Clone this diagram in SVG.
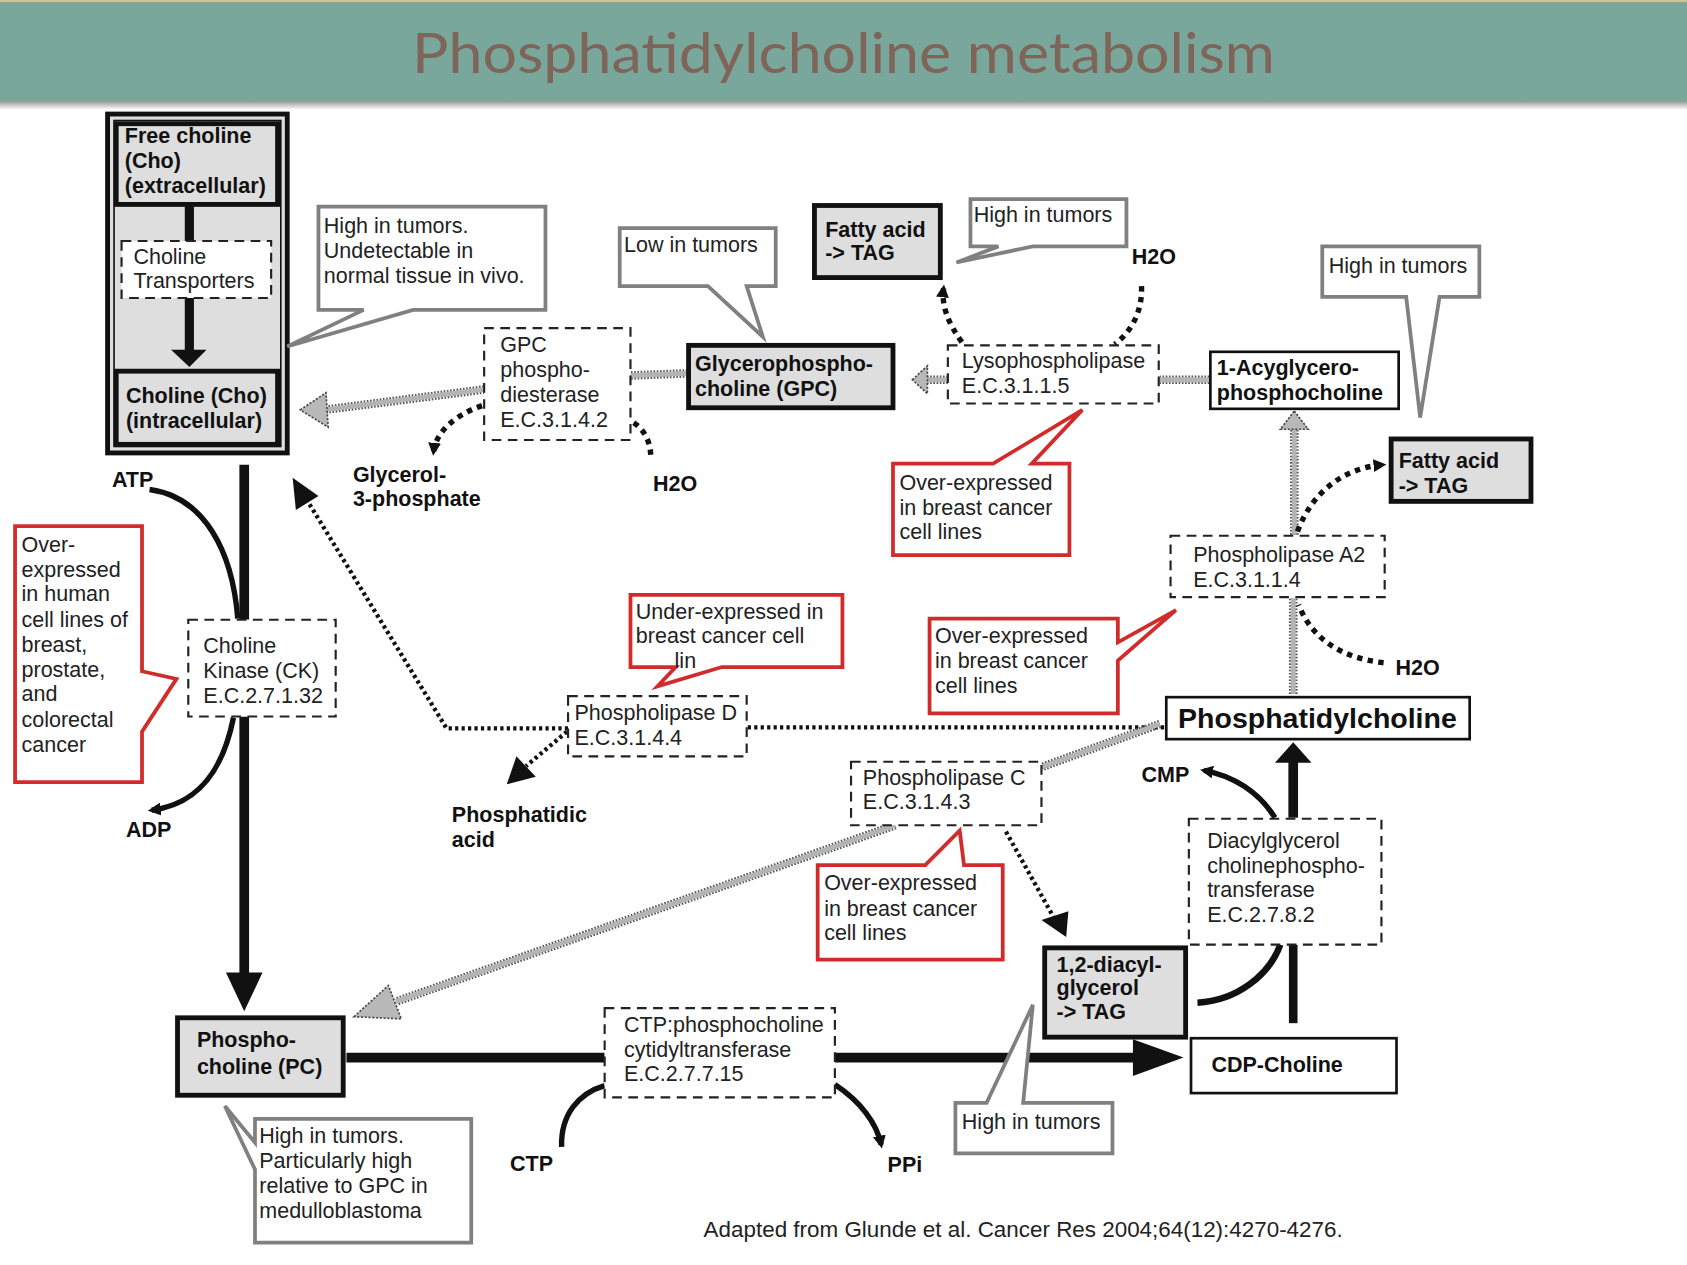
<svg xmlns="http://www.w3.org/2000/svg" width="1687" height="1265" viewBox="0 0 1687 1265">
<style>
.t{font-family:"Liberation Sans",Arial,sans-serif;font-size:20px;fill:#222}
.b{font-weight:bold;fill:#111}
.thick{fill:#dedede;stroke:#111;stroke-width:4.5}
.thin{fill:#fff;stroke:#111;stroke-width:2.5}
.dash{fill:#fff;stroke:#222;stroke-width:2;stroke-dasharray:9 6}
.cg{fill:#fff;stroke:#808080;stroke-width:3.5;stroke-linejoin:miter}
.cr{fill:#fff;stroke:#d22b2b;stroke-width:3.5;stroke-linejoin:miter}
.solid{stroke:#111;stroke-width:9;fill:none}
.curve{stroke:#111;stroke-width:5;fill:none}
.dot{stroke:#111;stroke-width:5;stroke-dasharray:5 5;fill:none}
.fdot{stroke:#111;stroke-width:4;stroke-dasharray:3 3;fill:none}
.sg1{stroke:#555;stroke-width:8;stroke-dasharray:1.5 1.5;fill:none}
.sg2{stroke:#b4b4b4;stroke-width:4.5;fill:none}
.gh{fill:#b8b8b8;stroke:#444;stroke-width:1.5;stroke-dasharray:2 1.5}
.bh{fill:#111}
</style>
<defs>
<marker id="ah" viewBox="0 0 10 10" refX="7" refY="5" markerWidth="12" markerHeight="12" markerUnits="userSpaceOnUse" orient="auto">
<path d="M0,0 L10,5 L0,10 z" fill="#111"/>
</marker>
<linearGradient id="shadow" x1="0" y1="0" x2="0" y2="1">
<stop offset="0" stop-color="#8a8a8a"/>
<stop offset="1" stop-color="#ffffff"/>
</linearGradient>
</defs>
<rect width="1687" height="1265" fill="#fff"/>
<g transform="scale(1.07589)">
<g id="header">
<rect x="0" y="93" width="1568" height="9" fill="url(#shadow)"/>
<rect x="0" y="0" width="1568" height="94" fill="#79a79b"/>
<rect x="0" y="0" width="1568" height="2" fill="#d9bf95"/>
<text x="784" y="68" text-anchor="middle" textLength="802" lengthAdjust="spacingAndGlyphs" style="font-family:Lato,'Open Sans',sans-serif;font-size:52px;fill:#7f6459">Phosphatidylcholine metabolism</text>
</g>

<g id="choline-compartment">
<rect x="100" y="106" width="167" height="315" fill="#dedede" stroke="#111" stroke-width="4.5"/>
<rect x="106" y="112" width="155" height="303" fill="none" stroke="#111" stroke-width="1.5"/>
</g>

<g id="connectors">
<!-- choline transport -->
<line class="solid" x1="176" y1="190" x2="176" y2="224" style="stroke-width:8.5"/>
<line class="solid" x1="176" y1="277" x2="176" y2="327" style="stroke-width:8.5"/>
<polygon class="bh" points="159,325 192,325 176,341"/>
<!-- choline kinase -->
<line class="solid" x1="227" y1="432" x2="227" y2="576"/>
<line class="solid" x1="227" y1="666" x2="227" y2="906"/>
<polygon class="bh" points="210,904 244,904 227,940"/>
<path class="curve" d="M139,455 C190,462 216,512 221,575"/>
<path class="curve" d="M217,667 C206,722 180,748 141,753" marker-end="url(#ah)"/>
<!-- GPC phosphodiesterase -> choline -->
<line class="sg1" x1="450" y1="362" x2="301" y2="381"/>
<line class="sg2" x1="450" y1="362" x2="301" y2="381"/>
<polygon class="gh" points="279,381 303,365 305,397"/>
<line class="sg1" x1="639" y1="347" x2="586" y2="349"/>
<line class="sg2" x1="639" y1="347" x2="586" y2="349"/>
<path class="dot" d="M448,377 C422,386 405,402 403,420" marker-end="url(#ah)"/>
<path class="dot" d="M589,393 C600,400 605,412 605,427"/>
<!-- lysophospholipase -->
<line class="sg1" x1="881" y1="353" x2="860" y2="353"/>
<line class="sg2" x1="881" y1="353" x2="860" y2="353"/>
<polygon class="gh" points="848,353 862,340 862,366"/>
<line class="sg1" x1="1124" y1="353" x2="1078" y2="353"/>
<line class="sg2" x1="1124" y1="353" x2="1078" y2="353"/>
<path class="dot" d="M894,318 C881,300 875,284 877,268" marker-end="url(#ah)"/>
<path class="dot" d="M1061,266 C1062,290 1051,309 1036,320"/>
<!-- phospholipase A2 -->
<line class="sg1" x1="1203" y1="497" x2="1203" y2="397"/>
<line class="sg2" x1="1203" y1="497" x2="1203" y2="397"/>
<polygon class="gh" points="1203,382 1216,399 1190,399"/>
<line class="sg1" x1="1202" y1="645" x2="1202" y2="556"/>
<line class="sg2" x1="1202" y1="645" x2="1202" y2="556"/>
<path class="dot" d="M1206,494 C1220,456 1250,435 1285,432" marker-end="url(#ah)"/>
<path class="dot" d="M1286,616 C1250,612 1220,596 1207,562"/>
<!-- phospholipase D -->
<line class="fdot" x1="695" y1="676" x2="1082" y2="676"/>
<polyline class="fdot" points="528,677 415,677 286,466"/>
<polygon class="bh" points="272,444 296,461 275,474"/>
<line class="fdot" x1="527" y1="680" x2="489" y2="712"/>
<polygon class="bh" points="471,729 480,703 498,722"/>
<!-- phospholipase C -->
<line class="sg1" x1="1078" y1="673" x2="968" y2="713"/>
<line class="sg2" x1="1078" y1="673" x2="968" y2="713"/>
<line class="sg1" x1="832" y1="767" x2="368" y2="931"/>
<line class="sg2" x1="832" y1="767" x2="368" y2="931"/>
<polygon class="gh" points="329,945 361,916 373,947"/>
<line class="fdot" x1="935" y1="773" x2="979" y2="852"/>
<polygon class="bh" points="991,871 968,855 993,847"/>
<!-- CDP-choline pathway -->
<line class="solid" x1="322" y1="983" x2="562" y2="983"/>
<line class="solid" x1="776" y1="983" x2="1056" y2="983"/>
<polygon class="bh" points="1053,966 1053,1000 1100,983"/>
<path class="curve" d="M522,1066 C521,1036 538,1016 562,1009"/>
<path class="curve" d="M776,1008 C800,1024 815,1044 819,1064" marker-end="url(#ah)"/>
<line class="solid" x1="1202" y1="951" x2="1202" y2="878" style="stroke-width:8"/>
<path class="curve" d="M1113,932 C1150,930 1180,906 1190,878" style="stroke-width:6"/>
<line class="solid" x1="1202" y1="760" x2="1202" y2="707"/>
<polygon class="bh" points="1185,709 1219,709 1202,690"/>
<path class="curve" d="M1185,760 C1170,736 1146,721 1119,716" marker-end="url(#ah)"/>
</g>

<g id="free-choline">
<rect class="thick" x="108" y="115" width="150" height="75"/>
<text class="t b" x="116" y="133">Free choline</text>
<text class="t b" x="116" y="156">(Cho)</text>
<text class="t b" x="116" y="179">(extracellular)</text>
</g>
<g id="choline-transporters">
<rect class="dash" x="113" y="224" width="139" height="53"/>
<text class="t" x="124" y="245">Choline</text>
<text class="t" x="124" y="268">Transporters</text>
</g>
<g id="choline-intracellular">
<rect class="thick" x="108" y="345" width="150" height="68"/>
<text class="t b" x="117" y="375">Choline (Cho)</text>
<text class="t b" x="117" y="398">(intracellular)</text>
</g>

<g id="callout-choline">
<path class="cg" d="M296,192 H507 V288 H384 L267,322 L338,288 H296 Z"/>
<text class="t" x="301" y="217">High in tumors.</text>
<text class="t" x="301" y="240">Undetectable in</text>
<text class="t" x="301" y="263">normal tissue in vivo.</text>
</g>

<g id="gpc-phosphodiesterase">
<rect class="dash" x="450" y="305" width="136" height="104"/>
<text class="t" x="465" y="327">GPC</text>
<text class="t" x="465" y="350">phospho-</text>
<text class="t" x="465" y="374">diesterase</text>
<text class="t" x="465" y="397">E.C.3.1.4.2</text>
</g>
<g id="glycerol-3-phosphate"><text class="t b" x="328" y="448">Glycerol-</text><text class="t b" x="328" y="470">3-phosphate</text></g>
<g id="h2o-gpc"><text class="t b" x="607" y="456">H2O</text></g>

<g id="callout-gpc">
<path class="cg" d="M576,212 H721 V266 H694 L709,313 L658,266 H576 Z"/>
<text class="t" x="580" y="234">Low in tumors</text>
</g>

<g id="gpc">
<rect class="thick" x="640" y="321" width="190" height="58"/>
<text class="t b" x="646" y="345">Glycerophospho-</text>
<text class="t b" x="646" y="368">choline (GPC)</text>
</g>

<g id="fatty-acid-1">
<rect class="thick" x="757" y="191" width="117" height="67"/>
<text class="t b" x="767" y="220">Fatty acid</text>
<text class="t b" x="767" y="242">-&gt; TAG</text>
</g>

<g id="callout-lyso-top">
<path class="cg" d="M902,185 H1047 V229 H960 L889,244 L928,229 H902 Z"/>
<text class="t" x="905" y="206">High in tumors</text>
</g>
<g id="h2o-lyso"><text class="t b" x="1052" y="245">H2O</text></g>

<g id="lysophospholipase">
<rect class="dash" x="881" y="321" width="196" height="54"/>
<text class="t" x="894" y="342">Lysophospholipase</text>
<text class="t" x="894" y="365">E.C.3.1.1.5</text>
</g>

<g id="acylglycerophosphocholine">
<rect class="thin" x="1125" y="327" width="175" height="53"/>
<text class="t b" x="1131" y="349">1-Acyglycero-</text>
<text class="t b" x="1131" y="372">phosphocholine</text>
</g>

<g id="callout-acyl">
<path class="cg" d="M1229,229 H1375 V276 H1338 L1320,388 L1307,276 H1229 Z"/>
<text class="t" x="1235" y="254">High in tumors</text>
</g>

<g id="fatty-acid-2">
<rect class="thick" x="1293" y="408" width="130" height="58"/>
<text class="t b" x="1300" y="435">Fatty acid</text>
<text class="t b" x="1300" y="458">-&gt; TAG</text>
</g>

<g id="callout-lyso-red">
<path class="cr" d="M830,431 H923 L1006,381 L959,431 H994 V516 H830 Z"/>
<text class="t" x="836" y="455">Over-expressed</text>
<text class="t" x="836" y="479">in breast cancer</text>
<text class="t" x="836" y="501">cell lines</text>
</g>

<g id="phospholipase-a2">
<rect class="dash" x="1088" y="498" width="199" height="57"/>
<text class="t" x="1109" y="522">Phospholipase A2</text>
<text class="t" x="1109" y="546">E.C.3.1.1.4</text>
</g>
<g id="h2o-pla2"><text class="t b" x="1297" y="627">H2O</text></g>

<g id="callout-pla2-red">
<path class="cr" d="M864,575 H1039 V597 L1093,567 L1039,614 V663 H864 Z"/>
<text class="t" x="869" y="598">Over-expressed</text>
<text class="t" x="869" y="621">in breast cancer</text>
<text class="t" x="869" y="644">cell lines</text>
</g>

<g id="phosphatidylcholine">
<rect class="thin" x="1084" y="648" width="282" height="39"/>
<text class="t b" x="1095" y="677" style="font-size:26.5px">Phosphatidylcholine</text>
</g>

<g id="callout-cho-kinase-red">
<path class="cr" d="M14,489 H132 V624 L164,631 L132,680 V727 H14 Z"/>
<text class="t" x="20" y="513">Over-</text>
<text class="t" x="20" y="536">expressed</text>
<text class="t" x="20" y="559">in human</text>
<text class="t" x="20" y="583">cell lines of</text>
<text class="t" x="20" y="606">breast,</text>
<text class="t" x="20" y="629">prostate,</text>
<text class="t" x="20" y="652">and</text>
<text class="t" x="20" y="676">colorectal</text>
<text class="t" x="20" y="699">cancer</text>
</g>

<g id="choline-kinase">
<rect class="dash" x="175" y="576" width="137" height="90"/>
<text class="t" x="189" y="607">Choline</text>
<text class="t" x="189" y="630">Kinase (CK)</text>
<text class="t" x="189" y="653">E.C.2.7.1.32</text>
</g>
<g id="atp"><text class="t b" x="104" y="453">ATP</text></g>
<g id="adp"><text class="t b" x="117" y="778">ADP</text></g>

<g id="callout-pld-red">
<path class="cr" d="M586,553 H783 V620 H671 L611,638 L628,620 H586 Z"/>
<text class="t" x="591" y="575">Under-expressed in</text>
<text class="t" x="591" y="598">breast cancer cell</text>
<text class="t" x="627" y="621">lin</text>
</g>

<g id="phospholipase-d">
<rect class="dash" x="528" y="647" width="166" height="56"/>
<text class="t" x="534" y="669">Phospholipase D</text>
<text class="t" x="534" y="692">E.C.3.1.4.4</text>
</g>
<g id="phosphatidic-acid"><text class="t b" x="420" y="764">Phosphatidic</text><text class="t b" x="420" y="787">acid</text></g>

<g id="phospholipase-c">
<rect class="dash" x="791" y="708" width="177" height="59"/>
<text class="t" x="802" y="730">Phospholipase C</text>
<text class="t" x="802" y="752">E.C.3.1.4.3</text>
</g>

<g id="callout-plc-red">
<path class="cr" d="M760,804 H860 L892,772 L896,804 H932 V892 H760 Z"/>
<text class="t" x="766" y="827">Over-expressed</text>
<text class="t" x="766" y="851">in breast cancer</text>
<text class="t" x="766" y="874">cell lines</text>
</g>

<g id="cmp"><text class="t b" x="1061" y="727">CMP</text></g>

<g id="dag-cholinephosphotransferase">
<rect class="dash" x="1105" y="761" width="179" height="117"/>
<text class="t" x="1122" y="788">Diacylglycerol</text>
<text class="t" x="1122" y="811">cholinephospho-</text>
<text class="t" x="1122" y="834">transferase</text>
<text class="t" x="1122" y="857">E.C.2.7.8.2</text>
</g>

<g id="diacylglycerol">
<rect class="thick" x="971" y="881" width="131" height="83"/>
<text class="t b" x="982" y="903">1,2-diacyl-</text>
<text class="t b" x="982" y="925">glycerol</text>
<text class="t b" x="982" y="947">-&gt; TAG</text>
</g>

<g id="cdp-choline">
<rect class="thin" x="1107" y="965" width="191" height="51"/>
<text class="t b" x="1126" y="996">CDP-Choline</text>
</g>

<g id="callout-dag">
<path class="cg" d="M888,1025 H917 L960,934 L951,1025 H1034 V1072 H888 Z"/>
<text class="t" x="894" y="1049">High in tumors</text>
</g>

<g id="ctp-cytidylyltransferase">
<rect class="dash" x="562" y="937" width="214" height="83"/>
<text class="t" x="580" y="959">CTP:phosphocholine</text>
<text class="t" x="580" y="982">cytidyltransferase</text>
<text class="t" x="580" y="1005">E.C.2.7.7.15</text>
</g>
<g id="ctp"><text class="t b" x="474" y="1088">CTP</text></g>
<g id="ppi"><text class="t b" x="825" y="1089">PPi</text></g>

<g id="phosphocholine">
<rect class="thick" x="165" y="946" width="154" height="72"/>
<text class="t b" x="183" y="973">Phospho-</text>
<text class="t b" x="183" y="998">choline (PC)</text>
</g>

<g id="callout-pc">
<path class="cg" d="M237,1040 H438 V1155 H237 V1087 L209,1028 L237,1062 Z"/>
<text class="t" x="241" y="1062">High in tumors.</text>
<text class="t" x="241" y="1086">Particularly high</text>
<text class="t" x="241" y="1109">relative to GPC in</text>
<text class="t" x="241" y="1132">medulloblastoma</text>
</g>

<g id="citation">
<text class="t" x="654" y="1150" textLength="594" lengthAdjust="spacingAndGlyphs">Adapted from Glunde et al. Cancer Res 2004;64(12):4270-4276.</text>
</g>
</g>
</svg>
